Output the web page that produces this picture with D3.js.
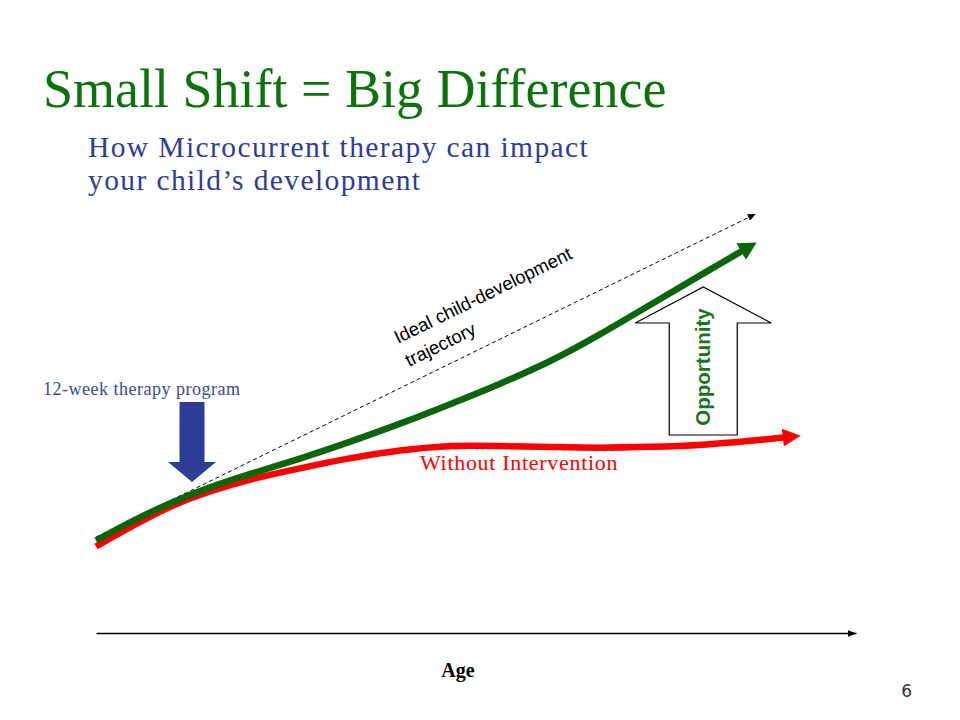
<!DOCTYPE html>
<html>
<head>
<meta charset="utf-8">
<script src="https://cdn.jsdelivr.net/npm/d3@7"></script>
<style>
  html, body { margin: 0; padding: 0; background: #fff; }
  svg { display: block; }
</style>
</head>
<body>
<svg id="chart" width="960" height="720"></svg>
<script>
// ---- Data (conceptual development levels, 0-100, by age 0-100) ----
const therapyAge   = [0, 5, 10, 15, 20, 27, 33, 40, 47, 53, 60, 66, 73, 80, 85];
const therapyLevel = [18.5, 22.6, 26.2, 29.2, 31.7, 34.9, 38.0, 41.8, 46.0, 49.7, 54.4, 59.4, 65.7, 72.0, 76.4];

const withoutAge   = [0, 5, 10, 15, 20, 27, 33, 40, 47, 53, 60, 66, 73, 80, 86, 90.5];
const withoutLevel = [17.3, 21.6, 25.6, 28.4, 30.7, 33.0, 34.9, 36.6, 37.6, 37.4, 37.2, 37.0, 37.2, 37.6, 38.4, 39.1];

const idealAge   = [0, 86.8];
const idealLevel = [19.2, 83.8];

const therapyStartAge = 12.5; // 12-week therapy program marker
const opportunityAge  = 79.9; // Opportunity arrow position
const opportunityFrom = 39.6; // bottom of Opportunity arrow (level)
const opportunityTo   = 69.2; // tip of Opportunity arrow (level)

const labels = {
  title: "Small Shift = Big Difference",
  subtitle: ["How Microcurrent therapy can impact", "your child\u2019s development"],
  program: "12-week therapy program",
  without: "Without Intervention",
  ideal1: "Ideal child-development",
  ideal2: "trajectory",
  opportunity: "Opportunity",
  axis: "Age",
  page: "6"
};

// ---- Scales ----
const svg = d3.select("#chart");
const x = d3.scaleLinear().domain([0, 100]).range([96, 856]);
const y = d3.scaleLinear().domain([0, 100]).range([633, 133]);

const GREEN = "#0b650b";
const RED = "#ff0000";
const BLUE = "#2f3d98";
const TITLE_GREEN = "#0c720c";
const SERIF = "Liberation Serif, Times New Roman, serif";
const SANS = "Liberation Sans, Arial, sans-serif";

// ---- Markers ----
const defs = svg.append("defs");
function marker(id, len, wid, color, refX) {
  defs.append("marker")
    .attr("id", id)
    .attr("markerUnits", "userSpaceOnUse")
    .attr("viewBox", `0 0 ${len} ${wid}`)
    .attr("markerWidth", len)
    .attr("markerHeight", wid)
    .attr("refX", refX)
    .attr("refY", wid / 2)
    .attr("orient", "auto")
    .append("path")
    .attr("d", `M0,0 L${len},${wid / 2} L0,${wid} Z`)
    .attr("fill", color);
}
marker("headGreen", 18, 19, GREEN, 1);
marker("headRed", 18, 18, RED, 1);
marker("headDash", 8, 7, "#000", 8);
marker("headAxis", 9, 7, "#000", 9);

// ---- Title texts ----
svg.append("text").attr("x", 43).attr("y", 107)
  .attr("font-family", SERIF)
  .attr("font-size", 54).attr("fill", TITLE_GREEN).text(labels.title);

svg.selectAll("text.sub").data(labels.subtitle).join("text")
  .attr("class", "sub")
  .attr("x", 88).attr("y", (d, i) => 157 + i * 33)
  .attr("font-family", SERIF).attr("letter-spacing", 1.4)
  .attr("font-size", 29.5).attr("fill", BLUE).text(d => d);

// ---- Axis ----
const axis = d3.axisBottom(x).ticks(0).tickSizeOuter(0);
const gAxis = svg.append("g").attr("transform", `translate(0,${y(0)})`).call(axis);
gAxis.select(".domain").attr("stroke", "#000").attr("stroke-width", 1.3)
  .attr("marker-end", "url(#headAxis)");
gAxis.selectAll(".tick").remove();

svg.append("text").attr("x", 458).attr("y", 677).attr("text-anchor", "middle")
  .attr("font-family", SERIF)
  .attr("font-weight", "bold").attr("font-size", 20).attr("fill", "#000")
  .text(labels.axis);

// ---- Lines ----
const line = d3.line().x(d => x(d[0])).y(d => y(d[1])).curve(d3.curveBasis);

svg.append("path")
  .datum(idealAge.map((a, i) => [a, idealLevel[i]]))
  .attr("d", d3.line().x(d => x(d[0])).y(d => y(d[1])))
  .attr("fill", "none").attr("stroke", "#000").attr("stroke-width", 1)
  .attr("stroke-dasharray", "4,3")
  .attr("marker-end", "url(#headDash)");

svg.append("path")
  .datum(withoutAge.map((a, i) => [a, withoutLevel[i]]))
  .attr("d", line)
  .attr("fill", "none").attr("stroke", RED).attr("stroke-width", 6.5)
  .attr("marker-end", "url(#headRed)");

svg.append("path")
  .datum(therapyAge.map((a, i) => [a, therapyLevel[i]]))
  .attr("d", line)
  .attr("fill", "none").attr("stroke", GREEN).attr("stroke-width", 6.5)
  .attr("marker-end", "url(#headGreen)");

// ---- Blue therapy arrow ----
const bx = x(therapyStartAge) + 1;
const bArrow = [
  [bx - 12.5, 402], [bx + 12.5, 402], [bx + 12.5, 462], [bx + 24, 462],
  [bx, 482], [bx - 24, 462], [bx - 12.5, 462]
];
svg.append("path").attr("d", "M" + bArrow.join("L") + "Z").attr("fill", BLUE);

svg.append("text").attr("x", 43).attr("y", 395)
  .attr("font-family", SERIF).attr("letter-spacing", 0.5)
  .attr("font-size", 18).attr("fill", "#3a48a0").text(labels.program);

// ---- Opportunity arrow ----
const ox = x(opportunityAge);
const oyB = y(opportunityFrom), oyT = y(opportunityTo);
const oArrow = [
  [ox - 34, oyB], [ox - 34, oyT + 36], [ox - 68, oyT + 36], [ox, oyT],
  [ox + 68, oyT + 36], [ox + 34, oyT + 36], [ox + 34, oyB]
];
svg.append("path").attr("d", "M" + oArrow.join("L") + "Z")
  .attr("fill", "#fff").attr("stroke", "#000").attr("stroke-width", 1.2);

svg.append("text")
  .attr("transform", `translate(${ox + 7},367) rotate(-90)`)
  .attr("text-anchor", "middle")
  .attr("font-family", SANS)
  .attr("font-weight", "bold").attr("font-size", 20.5).attr("fill", "#17761a")
  .text(labels.opportunity);

// ---- Ideal trajectory label ----
const angle = Math.atan2(y(idealLevel[1]) - y(idealLevel[0]), x(idealAge[1]) - x(idealAge[0])) * 180 / Math.PI;
svg.append("text")
  .attr("transform", `translate(398,344) rotate(${angle})`)
  .attr("font-family", SANS)
  .attr("font-size", 18.5).attr("fill", "#000").text(labels.ideal1);
svg.append("text")
  .attr("transform", `translate(409,367) rotate(${angle})`)
  .attr("font-family", SANS)
  .attr("font-size", 18.5).attr("fill", "#000").text(labels.ideal2);

// ---- Without Intervention label ----
svg.append("text").attr("x", 420).attr("y", 470)
  .attr("font-family", SERIF).attr("letter-spacing", 0.7)
  .attr("font-size", 22).attr("fill", RED).text(labels.without);

// ---- Page number ----
svg.append("text").attr("x", 912).attr("y", 697).attr("text-anchor", "end")
  .attr("font-family", "DejaVu Sans, sans-serif")
  .attr("font-size", 17).attr("fill", "#333").text(labels.page);
</script>
</body>
</html>
